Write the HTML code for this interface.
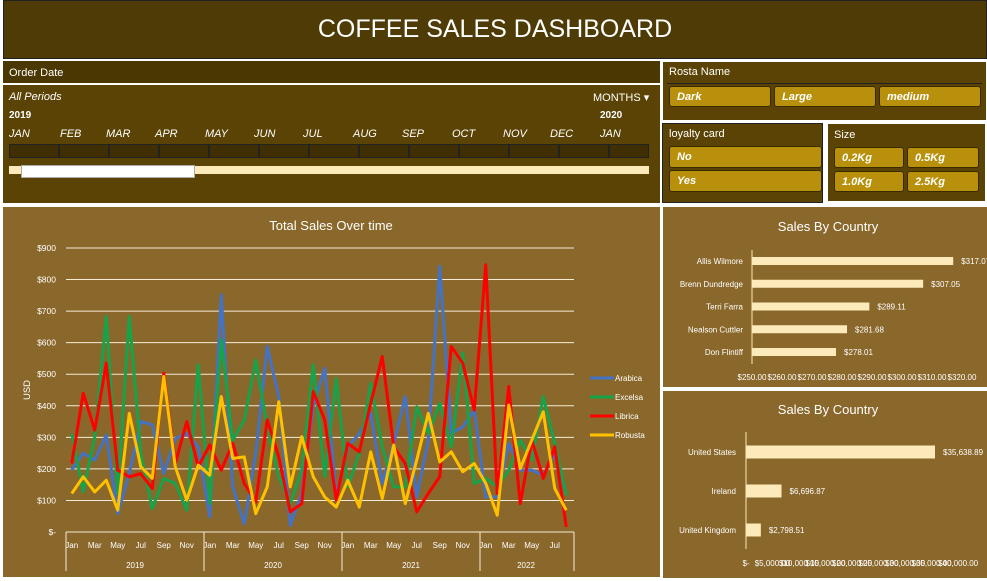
<!DOCTYPE html>
<html><head><meta charset="utf-8"><style>
body{margin:0;width:987px;height:581px;background:#fff;font-family:"Liberation Sans",sans-serif;position:relative;overflow:hidden}
.abs{position:absolute}
.btn{position:absolute;background:#b8900c;border:1px solid #3a2a00;border-radius:3px;color:#fff;font-style:italic;font-weight:bold;font-size:11px;box-sizing:border-box;padding:4px 7px}
.mon{position:absolute;top:128px;font-size:11px;font-style:italic;color:#fff}
</style></head><body>
<div class="abs" style="left:3px;top:0;width:984px;height:59px;background:#4e3b05;border:1px solid #222;box-sizing:border-box;color:#fff;font-size:25px;text-align:center;line-height:56px">COFFEE SALES DASHBOARD</div>

<div class="abs" style="left:3px;top:61px;width:657px;height:142px;background:#5a4304">
 <div class="abs" style="left:0;top:0;width:657px;height:24px;background:#4a3702;border-bottom:2px solid #fff;color:#fff;font-size:11px;line-height:24px;padding-left:6px;box-sizing:border-box">Order Date</div>
 <div class="abs" style="left:6px;top:30px;color:#fff;font-size:11px;font-style:italic">All Periods</div>
 <div class="abs" style="left:590px;top:30px;color:#fff;font-size:11px">MONTHS ▾</div>
 <div class="abs" style="left:6px;top:49px;color:#fff;font-size:10px;font-weight:bold">2019</div>
 <div class="abs" style="left:597px;top:49px;color:#fff;font-size:10px;font-weight:bold">2020</div>
 <div class="abs" style="left:6px;top:83px;width:640px;height:14px;background:#3f2f02;border:1px solid #222;box-sizing:border-box;background-image:repeating-linear-gradient(90deg,transparent 0,transparent 48px,#222 48px,#222 50px)"></div>
 <div class="abs" style="left:6px;top:105px;width:640px;height:8px;background:#fdeabb"></div>
 <div class="abs" style="left:18px;top:104px;width:172px;height:11px;background:#fff;border:1px solid #aaa"></div>
</div>
<div class="mon" style="left:9px">JAN</div><div class="mon" style="left:60px">FEB</div><div class="mon" style="left:106px">MAR</div><div class="mon" style="left:155px">APR</div><div class="mon" style="left:205px">MAY</div><div class="mon" style="left:254px">JUN</div><div class="mon" style="left:303px">JUL</div><div class="mon" style="left:353px">AUG</div><div class="mon" style="left:402px">SEP</div><div class="mon" style="left:452px">OCT</div><div class="mon" style="left:503px">NOV</div><div class="mon" style="left:550px">DEC</div><div class="mon" style="left:600px">JAN</div>

<div class="abs" style="left:662px;top:61px;width:325px;height:60px;background:#5a4304;border:1px solid #fff;box-sizing:border-box">
 <div class="abs" style="left:6px;top:4px;color:#fff;font-size:11px">Rosta Name</div>
 <div class="abs" style="left:4px;top:21px;width:315px;border-top:1px solid #222"></div>
</div>
<div class="btn" style="left:669px;top:86px;width:102px;height:21px">Dark</div>
<div class="btn" style="left:774px;top:86px;width:102px;height:21px">Large</div>
<div class="btn" style="left:879px;top:86px;width:102px;height:21px">medium</div>

<div class="abs" style="left:662px;top:123px;width:161px;height:80px;background:#5a4304;border:1px solid #222;box-sizing:border-box">
 <div class="abs" style="left:6px;top:4px;color:#fff;font-size:11px">loyalty card</div>
</div>
<div class="btn" style="left:669px;top:146px;width:153px;height:22px">No</div>
<div class="btn" style="left:669px;top:170px;width:153px;height:22px">Yes</div>

<div class="abs" style="left:826px;top:122px;width:161px;height:81px;background:#5a4304;border:2px solid #fff;box-sizing:border-box">
 <div class="abs" style="left:6px;top:5px;color:#fff;font-size:11px">Size</div>
</div>
<div class="btn" style="left:834px;top:147px;width:70px;height:21px">0.2Kg</div>
<div class="btn" style="left:907px;top:147px;width:72px;height:21px">0.5Kg</div>
<div class="btn" style="left:834px;top:171px;width:70px;height:21px">1.0Kg</div>
<div class="btn" style="left:907px;top:171px;width:72px;height:21px">2.5Kg</div>

<svg class="abs" style="left:0;top:0" width="987" height="581">
 <rect x="3" y="207" width="657" height="370" fill="#8a672a"/>
 <rect x="663" y="207" width="324" height="180" fill="#8a672a"/>
 <rect x="663" y="391" width="324" height="187" fill="#8a672a"/>
 <g id="line" font-family="Liberation Sans, sans-serif" fill="#fff"></g>
 <g id="bar1" font-family="Liberation Sans, sans-serif"></g>
 <g id="bar2" font-family="Liberation Sans, sans-serif"></g>
</svg>
<script>
const yTicks=[0,100,200,300,400,500,600,700,800,900];
const arabica=[196,250,228,307,58,185,350,340,185,296,312,270,48,752,143,26,250,588,429,21,122,400,519,111,270,312,376,154,281,429,111,291,842,312,333,386,111,111,281,196,196,180,249,116];
const excelsa=[312,127,302,683,122,683,249,74,170,154,69,530,90,609,291,355,545,334,175,90,196,530,175,487,143,249,471,270,143,143,397,312,408,270,567,154,170,143,196,291,228,429,281,116];
const librica=[217,440,323,535,196,175,185,138,503,217,350,207,276,196,281,154,95,355,238,64,90,445,355,101,281,254,408,556,270,217,64,122,175,588,535,386,847,122,461,90,291,170,270,16];
const robusta=[122,175,127,164,69,376,207,170,493,207,101,212,180,429,233,238,58,143,413,143,302,175,111,79,164,79,254,106,276,90,228,376,222,254,191,217,154,53,402,201,291,381,138,69];
const seriesNames=["Arabica","Excelsa","Librica","Robusta"];
const seriesColors=["#4472c4","#16a34a","#ff0000","#ffc000"];
const monthLabels=["Jan","Mar","May","Jul","Sep","Nov"];
const years=["2019","2020","2021","2022"];
const people=["Allis Wilmore","Brenn Dundredge","Terri Farra","Nealson Cuttler","Don Flintiff"];
const peopleSales=[317.07,307.05,289.11,281.68,278.01];
const peopleTicks=[250,260,270,280,290,300,310,320];
const countries=["United States","Ireland","United Kingdom"];
const countrySales=[35638.89,6696.87,2798.51];
const countryTicks=[0,5000,10000,15000,20000,25000,30000,35000,40000];
const NS="http://www.w3.org/2000/svg";
function mk(p,t,a,txt){const e=document.createElementNS(NS,t);for(const k in a)e.setAttribute(k,a[k]);if(txt!==undefined)e.textContent=txt;p.appendChild(e);return e;}
const L=document.getElementById('line');
const x0=66,step=11.5,yB=532,yT=248;
const X=i=>x0+step*(i+0.5), Y=v=>yB-(v/900)*(yB-yT);
const t=mk(L,'text',{x:331,y:230,'text-anchor':'middle','font-size':13},'Total Sales Over time');

yTicks.forEach(v=>{
 if(v>0){const g=mk(L,'line',{x1:x0,x2:574,y1:Y(v),y2:Y(v),stroke:'#f5ecd8','stroke-width':1});}
 const l=mk(L,'text',{x:56,y:Y(v)+3,'text-anchor':'end','font-size':8.5},v===0?'$-':'$'+v);
 
});
const yt=mk(L,'text',{x:0,y:0,'font-size':9.5,'text-anchor':'middle',transform:'translate(30,390) rotate(-90)'},'USD');

const n=arabica.length;
mk(L,'line',{x1:x0,x2:574,y1:yB,y2:yB,stroke:'#f5ecd8'});
for(let i=0;i<n;i+=2){const m=mk(L,'text',{x:X(i),y:548,'text-anchor':'middle','font-size':8},monthLabels[(i%12)/2]);}
for(let k=0;k<=years.length;k++){const xx=Math.min(x0+k*12*step,574);mk(L,'line',{x1:xx,x2:xx,y1:yB,y2:571,stroke:'#f5ecd8'});}
years.forEach((yr,k)=>{const s=k*12,e=Math.min(s+12,n);const yl=mk(L,'text',{x:x0+(s+e)/2*step,y:568,'text-anchor':'middle','font-size':8},yr);});
[arabica,excelsa,librica,robusta].forEach((arr,si)=>{
 const p=mk(L,'polyline',{points:arr.map((v,i)=>X(i)+','+Y(v)).join(' '),fill:'none',stroke:seriesColors[si],'stroke-width':3,'stroke-linejoin':'round'});
 
 const ly=378+si*19;
 mk(L,'line',{x1:590,x2:614,y1:ly,y2:ly,stroke:seriesColors[si],'stroke-width':3});
 const lt=mk(L,'text',{x:615,y:ly+3,'font-size':8},seriesNames[si]);
 
});
const B1=document.getElementById('bar1');
const ax1=752,sc1=3;const X1=v=>ax1+(v-250)*sc1;
const t1=mk(B1,'text',{x:828,y:231,'text-anchor':'middle','font-size':13,fill:'#fff'},'Sales By Country');

mk(B1,'line',{x1:ax1,x2:ax1,y1:250,y2:364,stroke:'#fdeabb'});
people.forEach((p,i)=>{const cy=261+i*22.75;
 const b=mk(B1,'rect',{x:ax1,y:cy-4,width:X1(peopleSales[i])-ax1,height:8,fill:'#fdeabb'});
 
 mk(B1,'text',{x:743,y:cy+3,'text-anchor':'end','font-size':8,fill:'#fff'},p);
 mk(B1,'text',{x:X1(peopleSales[i])+8,y:cy+3,'font-size':8,fill:'#fff'},'$'+peopleSales[i].toFixed(2));
});
peopleTicks.forEach(v=>{const l=mk(B1,'text',{x:X1(v),y:380,'text-anchor':'middle','font-size':8,fill:'#fff'},'$'+v.toFixed(2));});
const B2=document.getElementById('bar2');
const ax2=746,sc2=189/35638.89;const X2=v=>ax2+v*sc2;
const t2=mk(B2,'text',{x:828,y:414,'text-anchor':'middle','font-size':13,fill:'#fff'},'Sales By Country');

mk(B2,'line',{x1:ax2,x2:ax2,y1:432,y2:549,stroke:'#fdeabb'});
countries.forEach((c,i)=>{const cy=452+i*39;
 const b=mk(B2,'rect',{x:ax2,y:cy-6.5,width:X2(countrySales[i])-ax2,height:13,fill:'#fdeabb'});
 
 mk(B2,'text',{x:736,y:cy+3,'text-anchor':'end','font-size':8,fill:'#fff'},c);
 mk(B2,'text',{x:X2(countrySales[i])+8,y:cy+3,'font-size':8,fill:'#fff'},'$'+countrySales[i].toLocaleString('en-US',{minimumFractionDigits:2}));
});
countryTicks.forEach(v=>{const l=mk(B2,'text',{x:X2(v),y:566,'text-anchor':'middle','font-size':8,fill:'#fff'},v===0?'$-':'$'+v.toLocaleString('en-US')+'.00');});
</script>
</body></html>
